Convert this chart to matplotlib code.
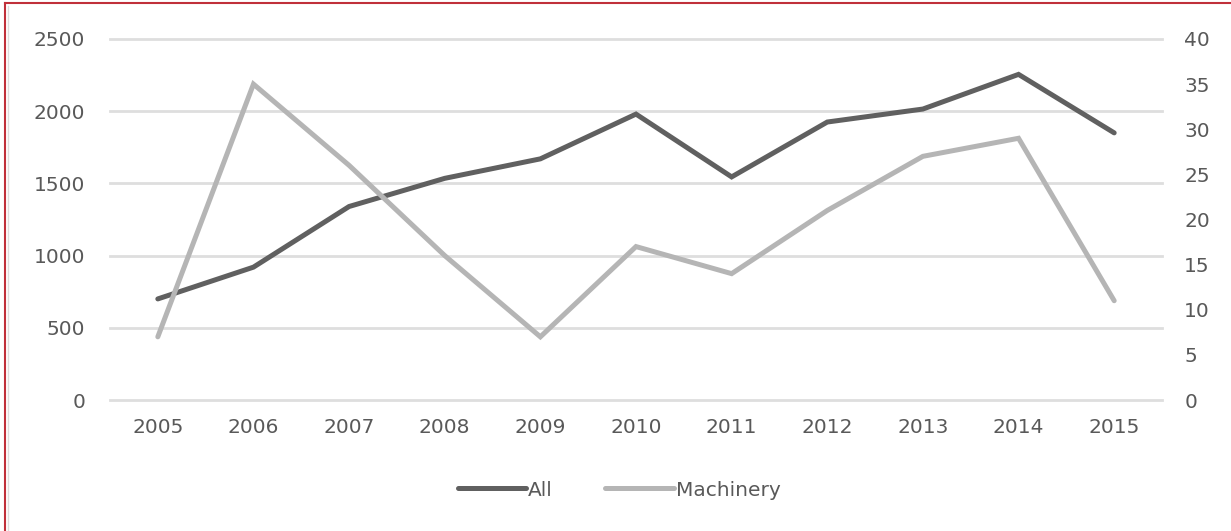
import numpy as np
import matplotlib
matplotlib.use('Agg')
import matplotlib.pyplot as plt
from matplotlib.lines import Line2D

years = ['2005', '2006', '2007', '2008', '2009', '2010', '2011', '2012', '2013', '2014', '2015']
all_vals = [700, 920, 1340, 1535, 1670, 1980, 1545, 1925, 2015, 2255, 1850]
machinery = [7, 35, 26, 16, 7, 17, 14, 21, 27, 29, 11]
left_ticks = [0, 500, 1000, 1500, 2000, 2500]
right_ticks = [0, 5, 10, 15, 20, 25, 30, 35, 40]

dark = '#606060'
light = '#b5b5b5'
txt = '#595959'
fs = 14.5

fig = plt.figure(figsize=(12.31, 5.31), dpi=100)
ax1 = fig.add_axes([110/1231, 1-400/531, 1052/1231, 361/531])
ax2 = ax1.twinx()

x = np.arange(len(years))
l1, = ax1.plot(x, all_vals, color=dark, lw=3.6, solid_capstyle='round', solid_joinstyle='miter', zorder=3)
l2, = ax2.plot(x, machinery, color=light, lw=3.6, solid_capstyle='round', solid_joinstyle='miter', zorder=3)

ax1.set_xlim(-0.5, len(years)-0.5)
ax1.set_ylim(0, 2500)
ax2.set_ylim(0, 40)
ax1.set_yticks(left_ticks)
ax2.set_yticks(right_ticks)
ax1.set_xticks(x)
ax1.set_xticklabels(years)

ax1.grid(axis='y', color='#dedede', lw=2)
ax1.set_axisbelow(True)
for g in ax1.get_ygridlines():
    g.set_clip_on(False)
for a in (ax1, ax2):
    for s in a.spines.values():
        s.set_visible(False)
ax1.tick_params(axis='y', length=0, pad=18, labelsize=fs, labelcolor=txt)
ax1.tick_params(axis='x', length=0, pad=13, labelsize=fs, labelcolor=txt)
ax2.tick_params(axis='y', length=0, pad=16, labelsize=fs, labelcolor=txt)

fig.legend([l1, l2], ['All', 'Machinery'], loc='center', bbox_to_anchor=(0.503, 1-490/531),
           ncol=2, frameon=False, fontsize=fs, labelcolor=txt, handlelength=3.4,
           handletextpad=0.1, columnspacing=2.6)

# outer border (top and left only visible)
fig.add_artist(Line2D([5/1231, 5/1231], [0, 1-3/531], color='#c0303a', lw=1.5))
fig.add_artist(Line2D([5/1231, 1], [1-3/531, 1-3/531], color='#c0303a', lw=1.5))
fig.add_artist(Line2D([8/1231, 8/1231], [0, 1-6/531], color='#dcdcdc', lw=1))

fig.savefig('out.png', dpi=100)
